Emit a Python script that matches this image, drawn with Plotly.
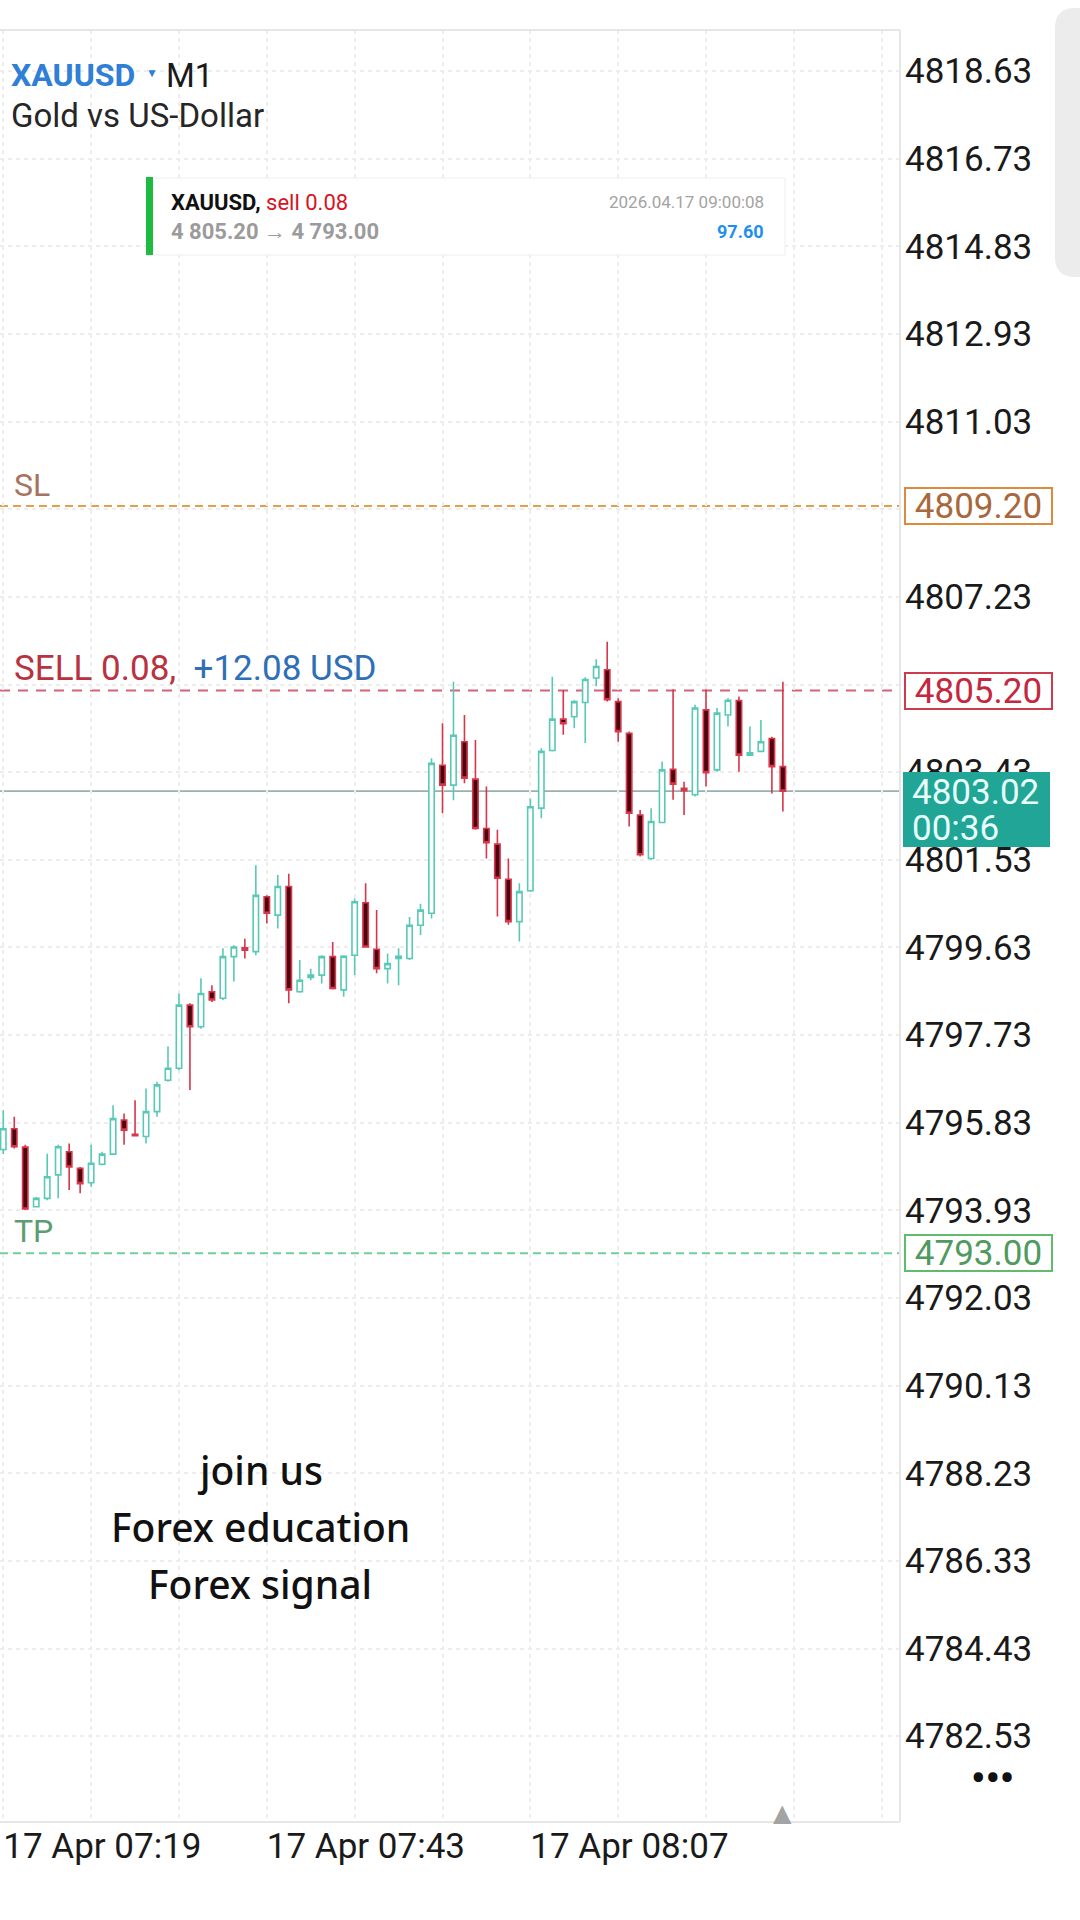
import plotly.graph_objects as go
import pandas as pd

W, H = 1080, 1920

# ---------------- data ----------------
opens = [4795.25, 4795.70, 4795.30, 4794.01, 4794.19, 4794.70, 4795.20, 4794.84, 4794.53, 4794.93,
         4795.15, 4795.89, 4795.58, 4795.53, 4796.07, 4796.75, 4797.01, 4798.38, 4797.91, 4798.67,
         4798.53, 4799.43, 4799.62, 4799.54, 4800.73, 4800.33, 4800.95, 4798.67, 4798.98, 4799.03,
         4799.43, 4798.71, 4799.46, 4800.60, 4799.59, 4799.17, 4799.39, 4799.39, 4800.11, 4800.37,
         4803.58, 4803.15, 4804.09, 4803.28, 4802.21, 4801.87, 4801.11, 4800.19, 4800.86, 4802.65,
         4803.90, 4804.58, 4804.63, 4804.94, 4805.47, 4805.65, 4804.96, 4804.27, 4802.50, 4801.56,
         4802.34, 4803.49, 4803.08, 4802.94, 4804.78, 4803.48, 4804.67, 4804.98, 4803.80, 4803.88,
         4804.16, 4803.55]
highs = [4796.10, 4795.96, 4795.35, 4794.22, 4795.16, 4795.35, 4795.38, 4794.87, 4795.35, 4795.20,
         4796.21, 4796.03, 4796.32, 4796.57, 4796.72, 4797.48, 4798.63, 4798.42, 4798.96, 4798.81,
         4799.61, 4799.68, 4799.82, 4801.41, 4800.76, 4801.20, 4801.23, 4799.36, 4799.17, 4799.46,
         4799.75, 4799.46, 4800.69, 4801.02, 4800.44, 4799.50, 4799.61, 4800.29, 4800.58, 4803.73,
         4804.49, 4805.39, 4804.67, 4804.13, 4803.12, 4802.18, 4801.56, 4801.02, 4802.86, 4803.95,
         4805.50, 4805.21, 4804.99, 4805.49, 4805.88, 4806.26, 4805.03, 4804.31, 4802.61, 4802.65,
         4803.66, 4805.23, 4803.22, 4804.89, 4805.23, 4804.82, 4805.03, 4805.07, 4804.42, 4804.56,
         4804.20, 4805.39]
lows = [4795.15, 4795.27, 4793.94, 4793.99, 4794.15, 4794.19, 4794.37, 4794.30, 4794.44, 4794.91,
        4795.13, 4795.35, 4795.53, 4795.38, 4795.96, 4796.72, 4796.97, 4796.54, 4797.87, 4798.45,
        4798.49, 4798.89, 4799.39, 4799.46, 4800.15, 4800.04, 4798.42, 4798.65, 4798.92, 4798.85,
        4798.72, 4798.56, 4799.03, 4799.63, 4799.07, 4798.85, 4798.81, 4799.36, 4799.90, 4800.26,
        4802.54, 4802.82, 4803.19, 4802.18, 4801.56, 4800.30, 4800.12, 4799.76, 4800.84, 4802.43,
        4803.88, 4804.24, 4804.38, 4804.06, 4805.29, 4804.96, 4804.09, 4802.25, 4801.60, 4801.53,
        4802.32, 4802.83, 4802.50, 4802.90, 4803.12, 4803.44, 4804.42, 4803.44, 4803.80, 4803.86,
        4802.97, 4802.58]
closes = [4795.70, 4795.31, 4793.96, 4794.19, 4794.66, 4795.31, 4794.87, 4794.51, 4794.95, 4795.15,
          4795.92, 4795.67, 4795.55, 4796.07, 4796.65, 4797.01, 4798.38, 4797.91, 4798.63, 4798.49,
          4799.43, 4799.64, 4799.57, 4800.76, 4800.37, 4800.95, 4798.71, 4798.92, 4799.03, 4799.43,
          4798.74, 4799.44, 4800.62, 4799.64, 4799.17, 4799.28, 4799.44, 4800.11, 4800.44, 4803.62,
          4803.15, 4804.23, 4803.30, 4802.21, 4801.90, 4801.13, 4800.19, 4800.84, 4802.68, 4803.88,
          4804.58, 4804.48, 4804.96, 4805.44, 4805.72, 4805.00, 4804.31, 4802.54, 4801.64, 4802.36,
          4803.48, 4803.17, 4803.03, 4804.82, 4803.42, 4804.71, 4804.99, 4803.80, 4803.85, 4804.09,
          4803.55, 4803.02]
times = pd.date_range("2026-04-17 07:19", periods=len(opens), freq="1min")

y_tick_vals = [4818.63, 4816.73, 4814.83, 4812.93, 4811.03, 4809.13, 4807.23, 4805.33, 4803.43,
               4801.53, 4799.63, 4797.73, 4795.83, 4793.93, 4792.03, 4790.13, 4788.23, 4786.33,
               4784.43, 4782.53]
y_tick_hidden = [4809.13, 4805.33]
x_tick_vals = pd.date_range("2026-04-17 07:19", "2026-04-17 08:39", freq="8min")
x_tick_labelled = ["07:19", "07:43", "08:07"]

sl_price = 4809.20
entry_price = 4805.20
tp_price = 4793.00
current_price = 4803.02
timer_text = "00:36"
position_text = "SELL 0.08,"
profit_text = "+12.08 USD"

# ---------------- geometry helpers ----------------
PL, PR, PT, PB = 0, 900, 30, 1822


def px(x):
    return x / W


def py(y):
    return 1 - y / H


fig = go.Figure()
fig.add_trace(go.Candlestick(
    x=times, open=opens, high=highs, low=lows, close=closes,
    increasing=dict(line=dict(color="#58c9b6", width=1.6), fillcolor="#ffffff"),
    decreasing=dict(line=dict(color="#d8364a", width=1.6), fillcolor="#4a0710"),
    showlegend=False, hoverinfo="skip"))

shapes = []
annotations = []


def level(price, color, dash):
    shapes.append(dict(type="line", xref="paper", x0=px(PL), x1=px(PR), yref="y",
                       y0=price, y1=price, line=dict(color=color, width=2, dash=dash),
                       layer="below"))


level(sl_price, "#e3a04a", "8px,5px")
level(entry_price, "#d4637a", "10px,8px")
level(tp_price, "#6fd09a", "8px,5px")
shapes.append(dict(type="line", xref="paper", x0=px(PL), x1=px(PR), yref="y",
                   y0=current_price, y1=current_price,
                   line=dict(color="#98b0ae", width=1.6), layer="below"))

# plot frame
for (x0, y0, x1, y1) in [(PL, PT, PR, PT), (PL, PB, PR, PB), (PR, PT, PR, PB)]:
    shapes.append(dict(type="line", xref="paper", yref="paper", x0=px(x0), x1=px(x1),
                       y0=py(y0), y1=py(y1), line=dict(color="#e6e6e6", width=2)))

# trade box
shapes.append(dict(type="rect", xref="paper", yref="paper", x0=px(148), x1=px(785),
                   y0=py(178), y1=py(255), fillcolor="#ffffff",
                   line=dict(color="#eeeeee", width=1)))
shapes.append(dict(type="rect", xref="paper", yref="paper", x0=px(146), x1=px(153),
                   y0=py(177), y1=py(255), fillcolor="#1dbb40", line=dict(width=0)))

# right grey side panel
r = 20
x0p, x1p, y0p, y1p = 1055, 1080, 8, 277
path = (f"M {px(x1p)},{py(y0p)} L {px(x0p + r)},{py(y0p)} "
        f"Q {px(x0p)},{py(y0p)} {px(x0p)},{py(y0p + r)} "
        f"L {px(x0p)},{py(y1p - r)} Q {px(x0p)},{py(y1p)} {px(x0p + r)},{py(y1p)} "
        f"L {px(x1p)},{py(y1p)} Z")
shapes.append(dict(type="path", xref="paper", yref="paper", path=path,
                   fillcolor="#ececec", line=dict(width=0)))

ROB = "Roboto"


def text(x, y, t, size, color, font=ROB, xanchor="left", yanchor="middle", weight=None, **kw):
    f = dict(family=font, size=size, color=color)
    if weight:
        f["weight"] = weight
    annotations.append(dict(x=px(x), y=py(y), xref="paper", yref="paper", text=t,
                            showarrow=False, xanchor=xanchor, yanchor=yanchor,
                            font=f, **kw))


# header
text(9, 75, "<b>XAUUSD</b>", 32, "#2f7fd6")
text(144, 73, "▼", 12, "#2f7fd6")
text(164, 75, "M1", 33, "#1a1a1a")
text(9, 115, "Gold vs US-Dollar", 33, "#262626")

# trade box text
text(169, 202, "<b>XAUUSD,</b> <span style='color:#d9121f'>sell 0.08</span>", 22, "#111111")
text(169, 231, "<b>4 805.20 → 4 793.00</b>", 22, "#9b9b9b")
text(766, 202, "2026.04.17 09:00:08", 17, "#a3a3a3", xanchor="right")
text(766, 231, "<b>97.60</b>", 18, "#1e8ff0", xanchor="right")

# level labels
text(12, 485, "SL", 32, "#a8735e")
text(12, 669, f"{position_text}&#160;&#160;<span style='color:#2f6fb8'>{profit_text}</span>",
     35, "#b8323f")
text(12, 1231, "TP", 32, "#5e9c72")


def price_box(price, border, color):
    annotations.append(dict(x=px(904), y=price, xref="paper", yref="y", text=f"{price:.2f}",
                            showarrow=False, xanchor="left", yanchor="middle",
                            width=145, height=34, align="center", valign="middle",
                            bgcolor="#ffffff", bordercolor=border, borderwidth=2, borderpad=0,
                            font=dict(family=ROB, size=35, color=color)))


price_box(sl_price, "#dc8a3c", "#a8683c")
price_box(entry_price, "#cc3c4e", "#c4283e")
price_box(tp_price, "#62bb6c", "#4f9a5e")

# current price box
annotations.append(dict(x=px(903), y=current_price, xref="paper", yref="y", text="&#160;",
                        showarrow=False, xanchor="left", yanchor="top", yshift=19,
                        width=147, height=75, bgcolor="#20a597", borderpad=0, borderwidth=0,
                        font=dict(family=ROB, size=10, color="#20a597")))
annotations.append(dict(x=px(910), y=current_price, xref="paper", yref="y",
                        text=f"{current_price:.2f}", showarrow=False, xanchor="left",
                        yanchor="middle", yshift=-1,
                        font=dict(family=ROB, size=35, color="#e8fffb")))
annotations.append(dict(x=px(910), y=current_price, xref="paper", yref="y",
                        text=timer_text, showarrow=False, xanchor="left",
                        yanchor="middle", yshift=-37,
                        font=dict(family=ROB, size=35, color="#e8fffb")))

# watermark text
for yy, t in [(1469, "join us"), (1526, "Forex education"), (1583, "Forex signal")]:
    text(260, yy, t, 39, "#111111", font="Noto Sans", xanchor="center", weight=500)

# shift marker and menu dots
annotations.append(dict(x=times[-1], y=py(1824), xref="x", yref="paper", text="▲",
                        showarrow=False, xanchor="center", yanchor="bottom", yshift=-5,
                        font=dict(family="DejaVu Sans", size=24, color="#a3a3a3")))
text(992, 1778, "<b>•••</b>", 40, "#111111", xanchor="center")

x_ticktext = [("17 Apr " + t.strftime("%H:%M")) if t.strftime("%H:%M") in x_tick_labelled else ""
              for t in x_tick_vals]
y_ticktext = ["" if v in y_tick_hidden else f"{v:.2f}" for v in y_tick_vals]

fig.update_layout(
    width=W, height=H, margin=dict(l=0, r=0, t=0, b=0),
    paper_bgcolor="#ffffff", plot_bgcolor="#ffffff",
    shapes=shapes, annotations=annotations, showlegend=False,
    xaxis=dict(type="date", domain=[px(PL), px(PR)],
               range=["2026-04-17 07:18:42", "2026-04-17 08:40:40"],
               rangeslider=dict(visible=False), tickmode="array",
               tickvals=list(x_tick_vals), ticktext=x_ticktext,
               showgrid=True, gridcolor="#ededed", griddash="4px,4px", gridwidth=1.5,
               ticks="", ticklabelposition="outside right",
               tickfont=dict(family=ROB, size=35, color="#1a1a1a"),
               showline=False, zeroline=False, automargin=False, fixedrange=True),
    yaxis=dict(side="right", domain=[py(PB), py(PT)], range=[4780.67, 4819.52],
               tickmode="array", tickvals=y_tick_vals, ticktext=y_ticktext,
               showgrid=True, gridcolor="#ededed", griddash="4px,4px", gridwidth=1.5,
               ticks="", ticklabelstandoff=4,
               tickfont=dict(family=ROB, size=35, color="#1a1a1a"),
               showline=False, zeroline=False, automargin=False, fixedrange=True),
)

fig.write_html("out.html")
